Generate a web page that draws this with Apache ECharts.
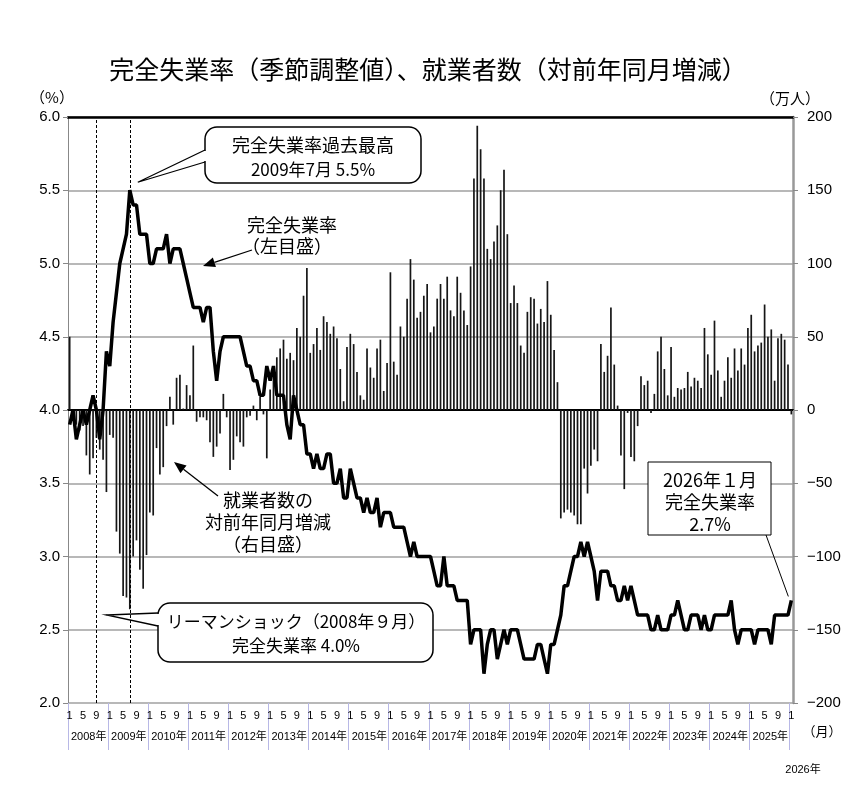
<!DOCTYPE html>
<html>
<head>
<meta charset="utf-8">
<script src="https://cdn.jsdelivr.net/npm/echarts@6/dist/echarts.min.js"></script>
<style>
html, body { margin: 0; padding: 0; background: #fff; }
#main { width: 856px; height: 787px; }
</style>
</head>
<body>
<div id="main"></div>
<script>
// months: Jan 2008 .. Jan 2026
var startYear = 2008;
var monthCount = 217;

// 完全失業率 (季節調整値), %
var unempRate = [
    3.9,4.0,3.8,3.9,4.0,3.9,4.0,4.1,4.0,3.8,4.0,4.4,   // 2008
    4.3,4.6,4.8,5.0,5.1,5.2,5.5,5.4,5.4,5.2,5.2,5.2,   // 2009
    5.0,5.0,5.1,5.1,5.1,5.2,5.0,5.1,5.1,5.1,5.0,4.9,   // 2010
    4.8,4.7,4.7,4.7,4.6,4.7,4.7,4.4,4.2,4.4,4.5,4.5,   // 2011
    4.5,4.5,4.5,4.5,4.4,4.3,4.3,4.2,4.2,4.1,4.1,4.3,   // 2012
    4.2,4.3,4.1,4.1,4.1,3.9,3.8,4.1,4.0,3.9,3.9,3.7,   // 2013
    3.7,3.6,3.7,3.6,3.6,3.7,3.7,3.5,3.5,3.6,3.4,3.4,   // 2014
    3.6,3.5,3.4,3.4,3.3,3.4,3.3,3.3,3.4,3.2,3.3,3.3,   // 2015
    3.3,3.2,3.2,3.2,3.2,3.1,3.0,3.1,3.0,3.0,3.0,3.0,   // 2016
    3.0,2.9,2.8,2.8,3.0,2.8,2.8,2.8,2.7,2.7,2.7,2.7,   // 2017
    2.4,2.5,2.5,2.5,2.2,2.4,2.5,2.5,2.3,2.4,2.5,2.4,   // 2018
    2.5,2.5,2.5,2.4,2.3,2.3,2.3,2.3,2.4,2.4,2.3,2.2,   // 2019
    2.4,2.4,2.5,2.6,2.8,2.8,2.9,3.0,3.0,3.1,3.0,3.1,   // 2020
    3.0,2.9,2.7,2.9,2.9,2.9,2.8,2.8,2.7,2.7,2.8,2.7,   // 2021
    2.8,2.7,2.6,2.6,2.6,2.6,2.5,2.5,2.6,2.5,2.5,2.5,   // 2022
    2.6,2.6,2.7,2.6,2.5,2.5,2.6,2.6,2.6,2.5,2.6,2.5,   // 2023
    2.5,2.6,2.6,2.6,2.6,2.6,2.7,2.5,2.4,2.5,2.5,2.5,   // 2024
    2.5,2.4,2.5,2.5,2.5,2.5,2.4,2.6,2.6,2.6,2.6,2.6,   // 2025
    2.7                                                 // 2026
];

// 就業者数 対前年同月増減, 万人
var employChange = [
    50,-5,-10,-14,-11,-31,-44,-33,-19,-27,-34,-56,          // 2008
    -17,-19,-83,-98,-127,-128,-136,-100,-89,-109,-122,-99,  // 2009
    -70,-72,-26,-44,-39,-11,9,-10,22,24,1,17,               // 2010
    10,44,-8,-5,-5,-7,-22,-32,-25,-16,11,-5,                // 2011
    -41,-34,-18,-22,-25,-5,-4,3,-7,9,-3,-33,                // 2012
    14,27,36,42,48,35,39,34,56,50,78,97,                    // 2013
    39,45,56,41,64,60,52,57,49,28,6,43,                     // 2014
    52,45,26,10,7,42,29,22,42,48,13,32,                     // 2015
    94,33,24,57,50,76,103,89,63,67,78,86,                   // 2016
    53,57,76,86,76,91,68,64,91,80,68,58,                    // 2017
    98,158,194,178,158,110,103,115,126,150,164,120,         // 2018
    73,85,73,44,39,67,77,76,59,69,60,88,                    // 2019
    65,41,19,-74,-70,-68,-70,-72,-78,-78,-40,-57,           // 2020
    -38,-27,-35,45,26,37,70,31,3,-31,-54,-2,                // 2021
    -32,-35,-11,23,17,20,-2,11,40,50,28,10,                 // 2022
    43,9,15,14,15,26,16,22,20,15,56,38,                     // 2023
    24,61,27,9,20,36,22,42,27,42,31,56,                     // 2024
    65,40,44,46,72,50,55,20,49,52,48,31,                    // 2025
    -3                                                      // 2026
];

var monthTicks = [1, 5, 9];           // months labelled under the axis
var leftRange = [2.0, 6.0, 0.5];      // min, max, step (%)
var rightRange = [-200, 200, 50];     // min, max, step (万人)
var shockMonth = 8;                   // 2008年9月
var peakMonth = 18;                   // 2009年7月

var cats = [];
for (var i = 0; i < monthCount; i++)
    cats.push((startYear + Math.floor(i/12)) + "-" + (i%12 + 1));

var JP = "'Noto Sans CJK JP'";
var NUM = "'Liberation Sans','Noto Sans CJK JP'";

var chart = echarts.init(document.getElementById('main'));

chart.setOption({
    animation: false,
    backgroundColor: '#fff',
    title: {
        text: '完全失業率（季節調整値）、就業者数（対前年同月増減）',
        left: 'center', top: 52,
        textStyle: { fontFamily: JP, fontSize: 25, fontWeight: 'normal', color: '#000' }
    },
    grid: { left: 68, right: 63, top: 117, bottom: 84 },
    xAxis: [
        {
            type: 'category', data: cats, boundaryGap: true,
            axisLine: { lineStyle: { color: '#000', width: 2 } },
            axisTick: { show: false },
            axisLabel: {
                interval: function (idx) { return monthTicks.indexOf(idx % 12 + 1) >= 0; },
                formatter: function (v, idx) { return String(idx % 12 + 1); },
                fontFamily: NUM, fontSize: 11, color: '#000', margin: 7
            },
            splitLine: { show: false }
        },
        {
            // year separators and year names
            type: 'value', min: 0, max: monthCount, interval: 12,
            position: 'bottom',
            axisLine: { show: false },
            axisTick: { show: true, length: 47, lineStyle: { color: '#b8b8e6', width: 1 } },
            axisLabel: {
                show: true, align: 'left', margin: 28, padding: [0, 0, 0, 3],
                fontFamily: NUM, fontSize: 11, color: '#000',
                showMaxLabel: false,
                formatter: function (v) {
                    if (v >= monthCount - 1) return '';
                    return (startYear + v/12) + '年';
                }
            },
            splitLine: { show: false }
        },
        {
            // top border
            type: 'category', data: cats, position: 'top',
            axisLine: { lineStyle: { color: '#000', width: 2.5 } },
            axisTick: { show: false }, axisLabel: { show: false }
        }
    ],
    yAxis: [
        {
            type: 'value', min: leftRange[0], max: leftRange[1], interval: leftRange[2],
            axisLine: { show: true, lineStyle: { color: '#888', width: 1 } },
            axisTick: { show: true, length: 5, lineStyle: { color: '#888' } },
            axisLabel: {
                formatter: function (v) { return v.toFixed(1); },
                fontFamily: NUM, fontSize: 15, color: '#000', margin: 8
            },
            splitLine: { show: true, lineStyle: { color: '#a0a0a0', width: 1.5 } }
        },
        {
            type: 'value', min: rightRange[0], max: rightRange[1], interval: rightRange[2],
            position: 'right',
            axisLine: { show: true, lineStyle: { color: '#999', width: 2.5 } },
            axisTick: { show: true, length: 5, lineStyle: { color: '#888' } },
            axisLabel: {
                formatter: function (v) { return v < 0 ? '\u2212' + (-v) : String(v); },
                fontFamily: NUM, fontSize: 15, color: '#000', margin: 14
            },
            splitLine: { show: false }
        }
    ],
    series: [
        {
            name: '就業者数', type: 'bar', yAxisIndex: 1,
            data: employChange, barWidth: 1.7,
            itemStyle: { color: '#161616' },
            markLine: {
                silent: true, symbol: ['none', 'none'],
                label: { show: false },
                lineStyle: { color: '#000', type: [3, 2], width: 1 },
                data: [{ xAxis: cats[shockMonth] }, { xAxis: cats[peakMonth] }]
            }
        },
        {
            name: '完全失業率', type: 'line', yAxisIndex: 0,
            data: unempRate, showSymbol: false, symbol: 'none',
            lineStyle: { color: '#000', width: 3.5 },
            z: 5
        }
    ]
});

// ---- annotations ----
function px(idx, val) {
    return chart.convertToPixel({ seriesIndex: 1 }, [idx, val]);
}

function arrowEls(x1, y1, x2, y2) {
    var a = Math.atan2(y2 - y1, x2 - x1);
    var L = 12, W = 5;
    var bx = x2 - L*Math.cos(a), by = y2 - L*Math.sin(a);
    return [
        { type: 'line', z: 100, shape: { x1: x1, y1: y1, x2: bx, y2: by },
          style: { stroke: '#000', lineWidth: 1.3 } },
        { type: 'polygon', z: 100,
          shape: { points: [[x2, y2], [bx + W*Math.sin(a), by - W*Math.cos(a)], [bx - W*Math.sin(a), by + W*Math.cos(a)]] },
          style: { fill: '#000' } }
    ];
}

function txt(s, x, y, size, fam) {
    return { type: 'text', z: 101,
        style: { text: s, x: x, y: y, fill: '#000', align: 'center', verticalAlign: 'middle',
                 font: 'normal ' + (size || 17) + 'px ' + (fam || JP) } };
}

// speech bubble with tail leaving the left edge
function bubble(x, y, w, h, r, by1, by2, tip) {
    return [
        { type: 'rect', z: 100, shape: { x: x, y: y, width: w, height: h, r: r },
          style: { fill: '#fff', stroke: '#000', lineWidth: 1.5 } },
        { type: 'line', z: 100, shape: { x1: x, y1: by1 + 1, x2: x, y2: by2 - 1 },
          style: { stroke: '#fff', lineWidth: 3 } },
        { type: 'polyline', z: 100, shape: { points: [[x, by1], tip, [x, by2]] },
          style: { stroke: '#000', lineWidth: 1.3, fill: null } }
    ];
}

var peak = px(peakMonth, unempRate[peakMonth]);
var shock = px(shockMonth, leftRange[0]);
var last = px(monthCount - 1, unempRate[monthCount - 1]);

var g = [];
g = g.concat(bubble(205, 127, 216, 56, 12, 150, 162, [peak[0] + 8, peak[1] - 8]));
g.push(txt('完全失業率過去最高', 313, 145, 18));
g.push(txt('2009年7月 5.5%', 313, 170, 17));

g.push(txt('完全失業率', 292, 225, 18));
g.push(txt('（左目盛）', 287, 246, 18));
g = g.concat(arrowEls(252, 250, 203, 266));

g.push(txt('就業者数の', 268, 500, 18));
g.push(txt('対前年同月増減', 268, 522, 18));
g.push(txt('（右目盛）', 268, 544, 18));
g = g.concat(arrowEls(218, 496, 174, 462));

g = g.concat(bubble(158, 603, 275, 59, 12, 613, 626, [shock[0] + 10, 615]));
g.push(txt('リーマンショック（2008年９月）', 296, 622, 17));
g.push(txt('完全失業率 4.0%', 296, 646, 17));

g.push({ type: 'rect', z: 100, shape: { x: 648, y: 462, width: 123, height: 73 },
         style: { fill: '#fff', stroke: '#000', lineWidth: 1 } });
g.push({ type: 'line', z: 100, shape: { x1: 766, y1: 535, x2: last[0] - 3, y2: last[1] - 4 },
         style: { stroke: '#000', lineWidth: 1 } });
g.push(txt('2026年１月', 710, 480, 18));
g.push(txt('完全失業率', 710, 502, 18));
g.push(txt('2.7%', 710, 524, 18));

// axis units and the trailing year
g.push(txt('（%）', 52, 97, 15));
g.push(txt('（万人）', 790, 98, 15));
g.push(txt('（月）', 822, 731, 13));
g.push(txt('2026年', 803, 770, 11, NUM));

chart.setOption({ graphic: { elements: g } });
</script>
</body>
</html>
